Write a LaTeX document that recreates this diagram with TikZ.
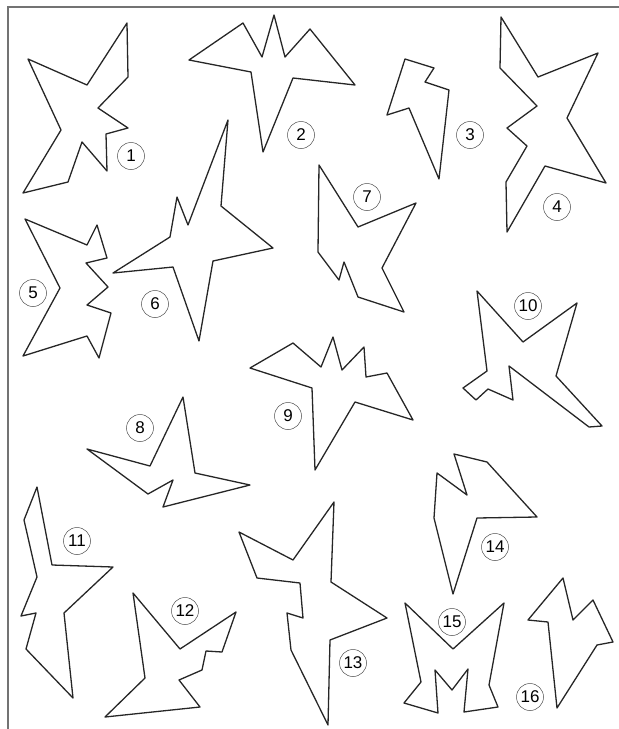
\documentclass[tikz,border=0pt]{standalone}
\usepackage{fontspec}
\setmainfont{Liberation Sans}
\usepackage{tikz}
\usetikzlibrary{positioning}
\tikzset{
  piece/.style = {draw=black!85, line width=1.3pt, line join=round},
  num/.style   = {draw=black!70, circle, line width=0.5pt, minimum size=27pt,
                  inner sep=0pt, font=\fontsize{17}{17}\selectfont},
  frame/.style = {draw=black!55, line width=1.3pt},
}

\begin{document}
\begin{tikzpicture}[x=1pt, y=-1pt]
  \useasboundingbox (0,0) rectangle (619,729);

  % ---------- sheet border ------------------------------------------
  \draw[frame] (8,729) -- (8,7) -- (619,7);

  % ---------- row 1 --------------------------------------------------
  \draw[piece] (28,59) -- (87,85) -- (127,23) -- (128,77) -- (98,108)
    -- (128,128) -- (106,134) -- (107,171) -- (82,142) -- (68,182)
    -- (23,193) -- (61,130) -- cycle;
  \node[num] (n1) at (131,156) {1};

  \draw[piece] (189,60) -- (243,23) -- (262,57) -- (274,15) -- (285,57)
    -- (310,29) -- (355,85) -- (293,78) -- (263,152) -- (251,72) -- cycle;
  \node[num] (n2) at (301,135) {2};

  \draw[piece] (405,59) -- (434,68) -- (425,82) -- (449,90) -- (439,179)
    -- (409,108) -- (387,115) -- cycle;
  \node[num] (n3) at (470,135) {3};

  \draw[piece] (501,17) -- (538,77) -- (598,53) -- (567,118) -- (606,183)
    -- (545,166) -- (507,232) -- (506,182) -- (527,146) -- (507,128)
    -- (537,106) -- (500,68) -- cycle;
  \node[num] (n4) at (557,207) {4};

  % ---------- row 2 --------------------------------------------------
  \draw[piece] (25,219) -- (87,245) -- (97,225) -- (107,258) -- (86,263)
    -- (108,287) -- (87,305) -- (111,313) -- (99,358) -- (87,336)
    -- (23,356) -- (60,288) -- cycle;
  \node[num] (n5) at (33,293) {5};

  \draw[piece] (113,273) -- (170,237) -- (177,197) -- (188,225) -- (228,120)
    -- (221,206) -- (273,248) -- (213,261) -- (199,341) -- (173,267) -- cycle;
  \node[num] (n6) at (155,304) {6};

  \draw[piece] (319,165) -- (358,227) -- (416,203) -- (382,268) -- (404,312)
    -- (358,297) -- (344,262) -- (339,280) -- (318,252) -- cycle;
  \node[num] (n7) at (367,197) {7};

  \draw[piece] (477,291) -- (523,342) -- (577,303) -- (556,376) -- (602,426)
    -- (589,427) -- (509,366) -- (513,400) -- (488,389) -- (476,400)
    -- (463,388) -- (487,371) -- cycle;
  \node[num] (n10) at (528,306) {10};

  % ---------- row 3 --------------------------------------------------
  \draw[piece] (250,368) -- (293,343) -- (321,367) -- (333,337) -- (342,370)
    -- (364,347) -- (366,377) -- (387,373) -- (413,420) -- (355,402)
    -- (315,470) -- (312,388) -- cycle;
  \node[num] (n9) at (288,416) {9};

  \draw[piece] (183,397) -- (195,473) -- (250,485) -- (163,507) -- (173,480)
    -- (148,494) -- (87,449) -- (150,466) -- cycle;
  \node[num] (n8) at (140,428) {8};

  % ---------- row 4 --------------------------------------------------
  \draw[piece] (37,487) -- (52,565) -- (113,567) -- (64,613) -- (73,698)
    -- (26,649) -- (36,613) -- (21,616) -- (37,577) -- (24,520) -- cycle;
  \node[num] (n11) at (77,541) {11};

  \draw[piece] (133,593) -- (180,649) -- (236,612) -- (222,652) -- (206,651)
    -- (202,670) -- (179,680) -- (200,707) -- (105,717) -- (145,678) -- cycle;
  \node[num] (n12) at (185,611) {12};

  \draw[piece] (239,532) -- (293,560) -- (334,502) -- (331,582) -- (387,618)
    -- (330,640) -- (328,725) -- (291,650) -- (287,613) -- (303,618)
    -- (300,583) -- (257,578) -- cycle;
  \node[num] (n13) at (353,663) {13};

  \draw[piece] (454,454) -- (487,462) -- (537,517) -- (477,518) -- (453,594)
    -- (434,518) -- (437,473) -- (467,495) -- cycle;
  \node[num] (n14) at (495,547) {14};

  \draw[piece] (405,603) -- (453,649) -- (504,603) -- (489,685) -- (498,707)
    -- (464,712) -- (468,669) -- (452,690) -- (435,670) -- (438,713)
    -- (404,703) -- (421,682) -- cycle;
  \node[num] (n15) at (452,622) {15};

  \draw[piece] (528,620) -- (563,578) -- (573,620) -- (593,600) -- (613,642)
    -- (597,645) -- (557,708) -- (548,622) -- cycle;
  \node[num] (n16) at (530,697) {16};
\end{tikzpicture}
\end{document}
